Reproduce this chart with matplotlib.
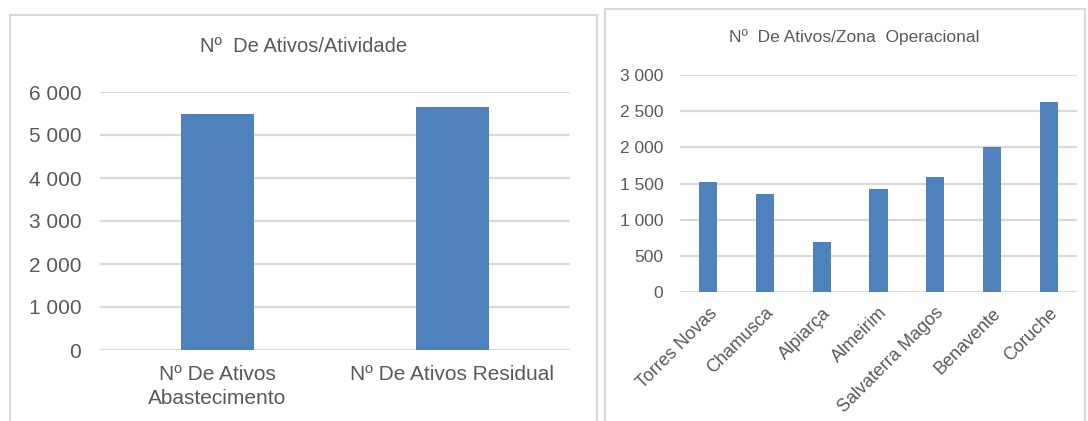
import matplotlib.pyplot as plt
from matplotlib.patches import Rectangle
from matplotlib.ticker import FuncFormatter

plt.rcParams['font.family'] = ['Liberation Sans', 'DejaVu Sans']

atividades = ['Nº De Ativos\nAbastecimento', 'Nº De Ativos Residual']
ativos_atividade = [5490, 5640]

zonas = ['Torres Novas', 'Chamusca', 'Alpiarça', 'Almeirim',
         'Salvaterra Magos', 'Benavente', 'Coruche']
ativos_zona = [1527, 1353, 690, 1426, 1588, 2006, 2631]

bar_color = '#4f81bd'
text_color = '#595959'
grid_color = '#d9d9d9'

W, H = 1088, 421
fig = plt.figure(figsize=(W / 100, H / 100), dpi=100)


def px(x0, y0, x1, y1):
    # pixel box (top-left origin) -> figure fraction rect
    return [x0 / W, 1 - y1 / H, (x1 - x0) / W, (y1 - y0) / H]


def thousands(v, pos):
    return f'{int(v):,}'.replace(',', ' ')


def style(ax):
    for s in ax.spines.values():
        s.set_visible(False)
    ax.set_axisbelow(True)
    ax.yaxis.grid(True, color=grid_color, linewidth=1.6)
    ax.tick_params(length=0, colors=text_color)
    ax.yaxis.set_major_formatter(FuncFormatter(thousands))


# outer frames
fig.patches.append(Rectangle((10 / W, -0.05), 587 / W, 1 - 15 / H + 0.05,
                             transform=fig.transFigure, fill=False,
                             edgecolor=grid_color, linewidth=1.5))
fig.patches.append(Rectangle((605 / W, -0.05), 480 / W, 1 - 9 / H + 0.05,
                             transform=fig.transFigure, fill=False,
                             edgecolor=grid_color, linewidth=1.5))

# left chart
ax1 = fig.add_axes(px(100, 92, 570, 350))
ax1.bar(range(len(atividades)), ativos_atividade, width=0.31, color=bar_color)
ax1.set_xlim(-0.5, len(atividades) - 0.5)
ax1.set_ylim(0, 6000)
ax1.set_yticks(range(0, 6001, 1000))
ax1.set_xticks(range(len(atividades)))
ax1.set_xticklabels(atividades, fontsize=15, linespacing=1.3)
ax1.tick_params(axis='y', labelsize=15, pad=13.5)
ax1.tick_params(axis='x', pad=11)
style(ax1)
fig.text(304 / W, 1 - 47 / H, 'Nº  De Ativos/Atividade', ha='center',
         va='center', fontsize=14.5, color=text_color)

# right chart
ax2 = fig.add_axes(px(680, 75, 1077, 292))
ax2.bar(range(len(zonas)), ativos_zona, width=0.32, color=bar_color)
ax2.set_xlim(-0.5, len(zonas) - 0.5)
ax2.set_ylim(0, 3000)
ax2.set_yticks(range(0, 3001, 500))
ax2.set_xticks(range(len(zonas)))
ax2.set_xticklabels(zonas, fontsize=13, rotation=45, ha='right',
                    rotation_mode='anchor')
ax2.tick_params(axis='y', labelsize=12.5, pad=12)
ax2.tick_params(axis='x', pad=9)
style(ax2)
fig.text(854 / W, 1 - 37 / H, 'Nº  De Ativos/Zona  Operacional', ha='center',
         va='center', fontsize=12.5, color=text_color)

fig.savefig('out.png', dpi=100)
